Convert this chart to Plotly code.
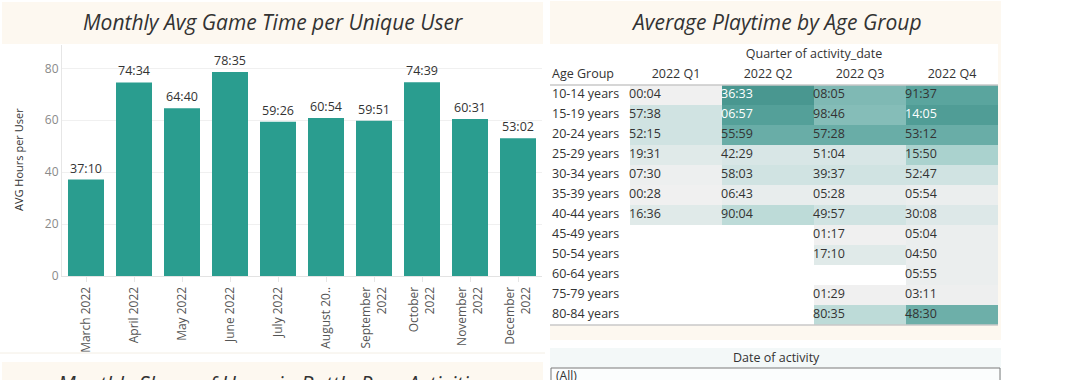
import plotly.graph_objects as go

# ---------------- data ----------------
months = ["March 2022", "April 2022", "May 2022", "June 2022", "July 2022",
          "August 20..", "September<br>2022", "October<br>2022",
          "November<br>2022", "December<br>2022"]
avg_hours = [37.167, 74.567, 64.667, 78.583, 59.433, 60.900, 59.850, 74.650, 60.517, 53.033]
avg_labels = ["37:10", "74:34", "64:40", "78:35", "59:26", "60:54", "59:51", "74:39", "60:31", "53:02"]
y_ticks = [0, 20, 40, 60, 80]

age_groups = ["10-14 years", "15-19 years", "20-24 years", "25-29 years", "30-34 years",
              "35-39 years", "40-44 years", "45-49 years", "50-54 years", "60-64 years",
              "75-79 years", "80-84 years"]
quarters = ["2022 Q1", "2022 Q2", "2022 Q3", "2022 Q4"]
playtime_labels = [
    ["00:04", "36:33", "08:05", "91:37"],
    ["57:38", "06:57", "98:46", "14:05"],
    ["52:15", "55:59", "57:28", "53:12"],
    ["19:31", "42:29", "51:04", "15:50"],
    ["07:30", "58:03", "39:37", "52:47"],
    ["00:28", "06:43", "05:28", "05:54"],
    ["16:36", "90:04", "49:57", "30:08"],
    [None, None, "01:17", "05:04"],
    [None, None, "17:10", "04:50"],
    [None, None, None, "05:55"],
    [None, None, "01:29", "03:11"],
    [None, None, "80:35", "48:30"],
]
# colour measure (relative intensity read from the cell shading)
colour_measure = [
    [0.00, 0.97, 0.60, 0.80],
    [0.20, 0.86, 0.57, 0.90],
    [0.20, 0.72, 0.72, 0.72],
    [0.10, 0.15, 0.15, 0.40],
    [0.02, 0.20, 0.20, 0.20],
    [0.00, 0.05, 0.05, 0.03],
    [0.10, 0.30, 0.20, 0.12],
    [None, None, 0.00, 0.03],
    [None, None, 0.10, 0.03],
    [None, None, None, 0.03],
    [None, None, 0.00, 0.01],
    [None, None, 0.30, 0.70],
]

# ---------------- layout helpers ----------------
W, H = 1085, 380
FONT = "Open Sans"
DARK = "#333333"
BEIGE = "#fdf8f0"
TEAL = "#2a9d8f"

def px(x):
    return x / W

def py(y):
    return 1 - y / H

fig = go.Figure()

# ---------- bar chart ----------
fig.add_trace(go.Bar(
    x=list(range(len(months))), y=avg_hours, text=avg_labels,
    textposition="outside", cliponaxis=False,
    textfont=dict(family=FONT, size=12.5, color=DARK),
    marker=dict(color=TEAL, line=dict(width=0)),
    hoverinfo="skip", xaxis="x", yaxis="y",
))

# ---------- heatmap ----------
rows = list(range(len(age_groups)))
cols = list(range(len(quarters)))
colorscale = [
    [0.0, "#f0f0f0"], [0.2, "#d0e3e2"], [0.4, "#aad2ce"],
    [0.6, "#7fb9b4"], [0.8, "#5aa59e"], [1.0, "#46948d"],
]
fig.add_trace(go.Heatmap(
    x=cols, y=rows, z=colour_measure, zmin=0, zmax=1,
    colorscale=colorscale, showscale=False, xgap=0, ygap=0,
    hoverinfo="skip", xaxis="x2", yaxis="y2",
))

cell_x, cell_y, cell_t, cell_c = [], [], [], []
for r in rows:
    for c in cols:
        t = playtime_labels[r][c]
        if t is None:
            continue
        cell_x.append(c - 0.5 - 1 / 92)
        cell_y.append(r)
        cell_t.append(t)
        v = colour_measure[r][c]
        cell_c.append("#ffffff" if v is not None and v >= 0.84 else DARK)
fig.add_trace(go.Scatter(
    x=cell_x, y=cell_y, text=cell_t, mode="text", textposition="middle right",
    textfont=dict(family=FONT, size=12.5, color=cell_c),
    hoverinfo="skip", cliponaxis=False, xaxis="x2", yaxis="y2",
))

label_x = -0.5 - 80 / 92 + 2 / 92
fig.add_trace(go.Scatter(
    x=[label_x] * len(age_groups), y=rows, text=age_groups, mode="text",
    textposition="middle right",
    textfont=dict(family=FONT, size=12.5, color=DARK),
    hoverinfo="skip", cliponaxis=False, xaxis="x2", yaxis="y2",
))
fig.add_trace(go.Scatter(
    x=cols + [label_x], y=[-1] * (len(quarters) + 1), text=quarters + ["Age Group"],
    mode="text", textposition=["middle center"] * len(quarters) + ["middle right"],
    textfont=dict(family=FONT, size=12.5, color=DARK),
    hoverinfo="skip", cliponaxis=False, xaxis="x2", yaxis="y2",
))
fig.add_trace(go.Scatter(
    x=[1.5], y=[-2], text=["Quarter of activity_date"], mode="text",
    textposition="middle center",
    textfont=dict(family=FONT, size=12.5, color=DARK),
    hoverinfo="skip", cliponaxis=False, xaxis="x2", yaxis="y2",
))

# ---------- background panels ----------
shapes = [
    # left title band
    dict(type="rect", xref="paper", yref="paper", x0=px(2), x1=px(543), y0=py(44), y1=py(2),
         fillcolor=BEIGE, line=dict(width=0), layer="below"),
    # right container (beige) and white table area
    dict(type="rect", xref="paper", yref="paper", x0=px(550), x1=px(1001), y0=py(340), y1=py(1),
         fillcolor=BEIGE, line=dict(width=0), layer="below"),
    dict(type="rect", xref="paper", yref="paper", x0=px(550), x1=px(998), y0=py(325), y1=py(44),
         fillcolor="#ffffff", line=dict(width=0), layer="below"),
    # table rules
    dict(type="line", xref="paper", yref="paper", x0=px(550), x1=px(998), y0=py(85), y1=py(85),
         line=dict(color="#c8c8c8", width=1.5)),
    dict(type="line", xref="paper", yref="paper", x0=px(550), x1=px(998), y0=py(325), y1=py(325),
         line=dict(color="#c8c8c8", width=1.5)),
    # left bottom separator and next title band
    dict(type="line", xref="paper", yref="paper", x0=px(0), x1=px(545), y0=py(353), y1=py(353),
         line=dict(color="#f3eee4", width=1)),
    dict(type="rect", xref="paper", yref="paper", x0=px(2), x1=px(543), y0=py(385), y1=py(362),
         fillcolor=BEIGE, line=dict(width=0), layer="below"),
    # filter panel
    dict(type="rect", xref="paper", yref="paper", x0=px(550), x1=px(1001), y0=py(385), y1=py(348),
         fillcolor="#f3f8f8", line=dict(width=0), layer="below"),
    dict(type="rect", xref="paper", yref="paper", x0=px(551), x1=px(1000), y0=py(390), y1=py(368),
         fillcolor="#fbfdfd", line=dict(color="#7a7a7a", width=1), layer="below"),
]

TITLE_FONT = dict(family=FONT, size=21, color=DARK, style="italic", weight=500)
annotations = [
    dict(text="Monthly Avg Game Time per Unique User", x=px(273), y=py(22), xref="paper", yref="paper",
         showarrow=False, xanchor="center", yanchor="middle", font=TITLE_FONT),
    dict(text="Average Playtime by Age Group", x=px(776), y=py(22), xref="paper", yref="paper",
         showarrow=False, xanchor="center", yanchor="middle", font=TITLE_FONT),
    dict(text="Monthly Share of Users in Battle Pass Activities", x=px(273), y=py(384),
         xref="paper", yref="paper", showarrow=False, xanchor="center", yanchor="middle",
         font=TITLE_FONT),
    dict(text="AVG Hours per User", x=px(18), y=py(160), xref="paper", yref="paper",
         showarrow=False, textangle=-90, xanchor="center", yanchor="middle",
         font=dict(family=FONT, size=11, color=DARK)),
    dict(text="Date of activity", x=px(776), y=py(357), xref="paper", yref="paper",
         showarrow=False, xanchor="center", yanchor="middle",
         font=dict(family=FONT, size=12.5, color=DARK)),
    dict(text="(All)", x=px(554), y=py(375), xref="paper", yref="paper",
         showarrow=False, xanchor="left", yanchor="middle",
         font=dict(family=FONT, size=12, color=DARK)),
]

fig.update_layout(
    width=W, height=H, margin=dict(l=0, r=0, t=0, b=0, autoexpand=False),
    paper_bgcolor="#ffffff", plot_bgcolor="rgba(0,0,0,0)",
    showlegend=False, bargap=0.25,
    font=dict(family=FONT, color=DARK),
    shapes=shapes, annotations=annotations,
    xaxis=dict(domain=[px(62), px(542)], range=[-0.5, len(months) - 0.5],
               tickmode="array", tickvals=list(range(len(months))), ticktext=months,
               tickangle=-90, tickfont=dict(family=FONT, size=12, color="#555555"),
               showline=True, linecolor="#e3e3e3", linewidth=1,
               ticks="outside", tickson="boundaries", ticklen=5, tickcolor="#e6e6e6",
               showgrid=False, zeroline=False, fixedrange=True, automargin=False),
    yaxis=dict(domain=[py(276), py(45)], range=[0, 89], tickvals=y_ticks,
               tickfont=dict(family=FONT, size=12, color="#8a8a8a"),
               showgrid=True, gridcolor="#f0f0f0", gridwidth=1,
               showline=True, linecolor="#e6e6e6", linewidth=1,
               zeroline=False, ticks="", fixedrange=True, automargin=False),
    xaxis2=dict(domain=[px(550), px(998)], range=[-0.5 - 80 / 92, 3.5], visible=False,
                showgrid=False, zeroline=False, anchor="y2", fixedrange=True, automargin=False),
    yaxis2=dict(domain=[py(325), py(45)], range=[11.5, -2.5], visible=False,
                showgrid=False, zeroline=False, anchor="x2", fixedrange=True, automargin=False),
)

fig.write_html("out.html", config=dict(displayModeBar=False),
               post_script="document.body.style.margin='0';document.body.style.overflow='hidden';")
